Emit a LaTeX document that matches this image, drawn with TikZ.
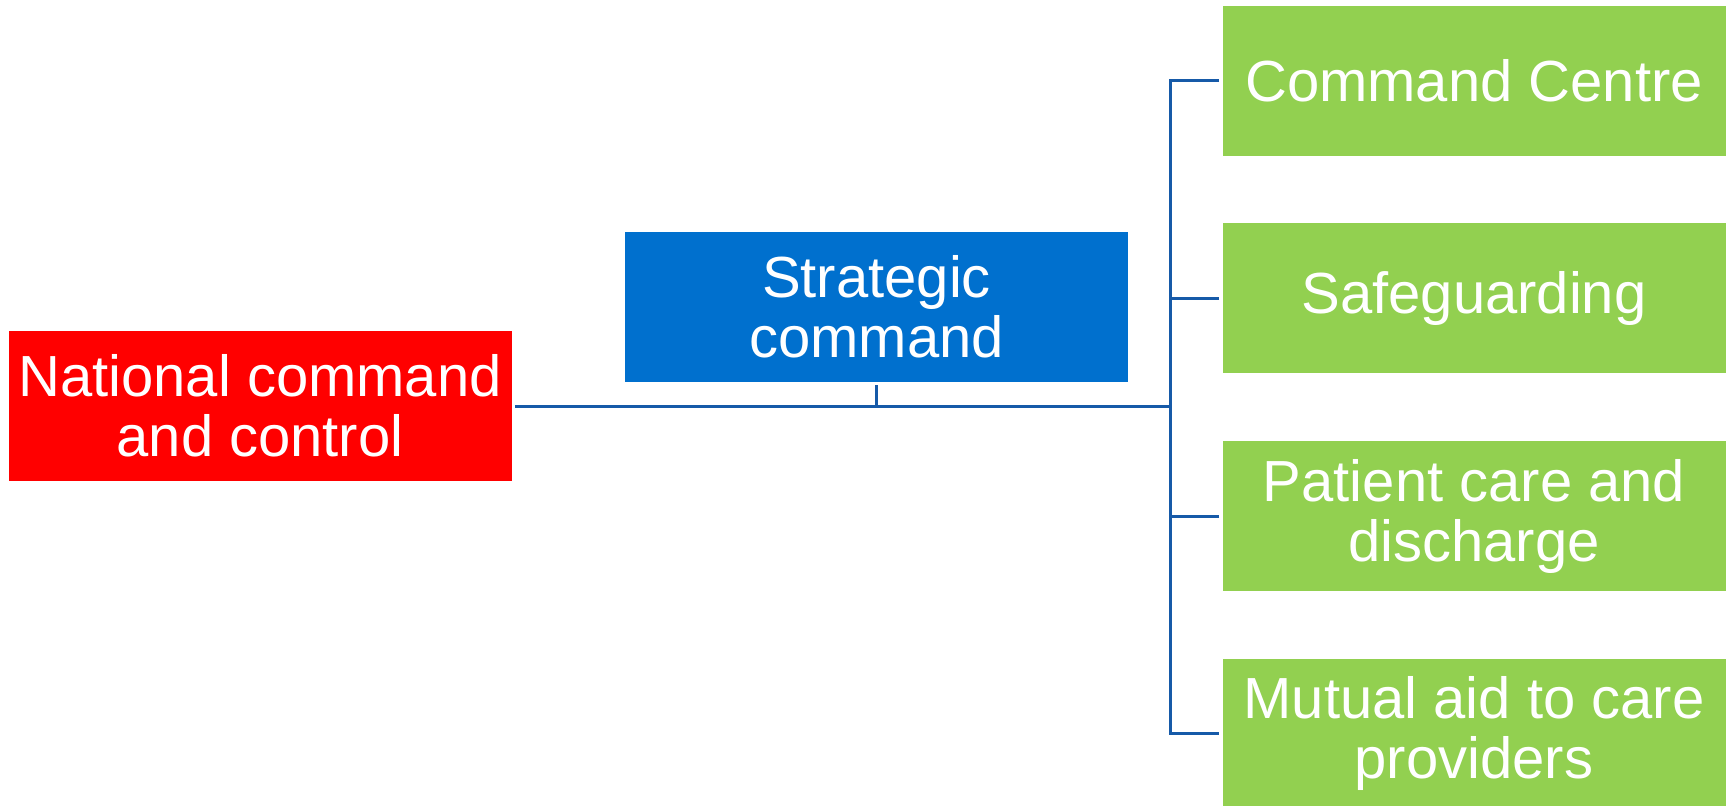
\documentclass[tikz,border=0pt]{standalone}
\usepackage{fontspec}
\setmainfont{Liberation Sans}
\usetikzlibrary{positioning}
\definecolor{natred}{RGB}{255,0,0}
\definecolor{stratblue}{RGB}{0,112,206}
\definecolor{cellgreen}{RGB}{146,208,80}
\definecolor{linkblue}{RGB}{22,90,168}

\begin{document}
\begin{tikzpicture}[
  x=0.5pt, y=-0.5pt,
  node distance=33.5pt,
  box/.style={rectangle, minimum width=251.5pt, minimum height=75pt, inner sep=0pt,
              align=center, text=white, font=\fontsize{29}{30}\selectfont},
  link/.style={draw=linkblue, line width=1.5pt}
]
\useasboundingbox (0,0) rectangle (1729,805);
\node[box, fill=natred] (nat) at (260,406) {National command\\and control};
\node[box, fill=stratblue] (strat) at (876.5,307) {Strategic\\command};
\node[box, fill=cellgreen] (cc) at (1474,80.5) {Command Centre};
\node[box, fill=cellgreen, below=of cc] (safe) {Safeguarding};
\node[box, fill=cellgreen, below=of safe] (pat) {Patient care and\\discharge};
\node[box, fill=cellgreen, below=of pat] (mut) {Mutual aid to care\\providers};
\coordinate (spine) at (1170,406);
\draw[link, shorten <=1.5pt] (nat.east) -- (nat.east -| spine);
\draw[link, shorten <=1.5pt] (strat.south) -- (strat.south |- nat.east);
\draw[link, shorten <=1.5pt, shorten >=1.5pt] (cc.west) -- (cc.west -| spine) -- (mut.west -| spine) -- (mut.west);
\draw[link, shorten <=1.5pt] (safe.west) -- (safe.west -| spine);
\draw[link, shorten <=1.5pt] (pat.west) -- (pat.west -| spine);
\end{tikzpicture}
\end{document}
